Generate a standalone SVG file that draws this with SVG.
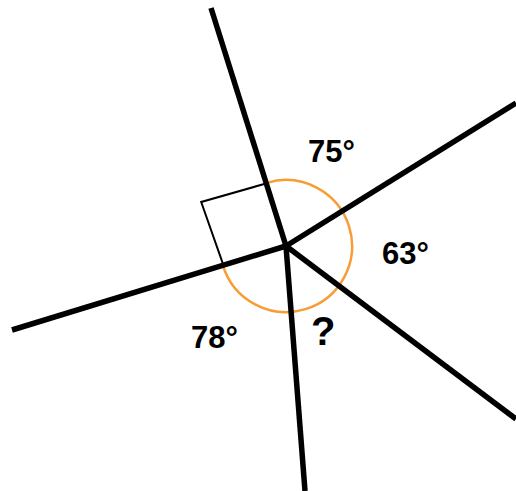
<svg xmlns="http://www.w3.org/2000/svg" width="516" height="491" viewBox="0 0 516 491">
<style>
.ray{stroke:#000;stroke-width:5.5;stroke-linecap:butt;fill:none}
.lbl{font-family:"Liberation Sans",Arial,sans-serif;font-weight:bold;font-size:31px;fill:#000}
</style>
<rect width="516" height="491" fill="#fff"/>
<g id="angle-marks">
<path d="M266.2,183.1 A66,66 0 1 1 222.9,265.3" fill="none" stroke="#F89D36" stroke-width="2.5"/>
<path d="M264.2,184 L201.2,202 L223,264" fill="none" stroke="#000" stroke-width="2"/>
</g>
<g id="connectors">
<line class="ray" x1="286" y1="246" x2="211" y2="8"/>
<line class="ray" x1="286" y1="246" x2="516" y2="103"/>
<line class="ray" x1="286" y1="246" x2="516" y2="419"/>
<line class="ray" x1="286" y1="246" x2="305" y2="491"/>
<line class="ray" x1="286" y1="246" x2="12" y2="330"/>
</g>
<g id="label-75"><text class="lbl" x="308" y="162">75°</text></g>
<g id="label-63"><text class="lbl" x="382" y="264">63°</text></g>
<g id="label-78"><text class="lbl" x="191" y="348">78°</text></g>
<g id="label-q"><text class="lbl" x="311" y="345" style="font-size:40px">?</text></g>
</svg>
